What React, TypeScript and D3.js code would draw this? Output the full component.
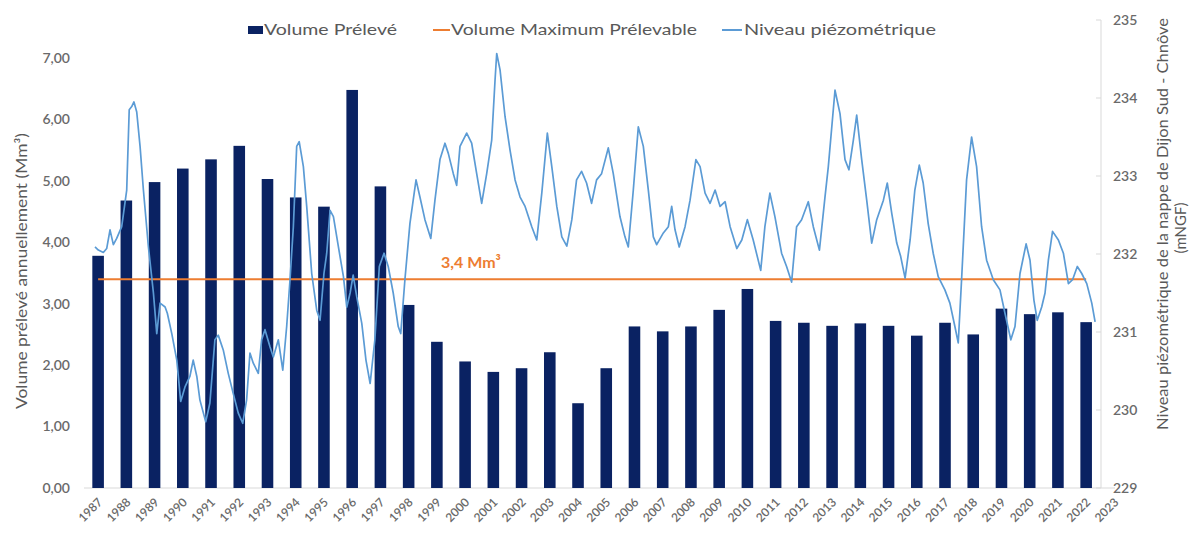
import React from "react";
import * as d3 from "d3";

const yearLabels = d3.range(1987, 2024).map(String);
const barYears = d3.range(1987, 2023).map(String);
const volumes = [3.78, 4.68, 4.98, 5.2, 5.35, 5.57, 5.03, 4.73, 4.58, 6.48, 4.91, 2.98, 2.38, 2.06, 1.89, 1.95, 2.21, 1.38, 1.95, 2.63, 2.55, 2.63, 2.9, 3.24, 2.72, 2.69, 2.64, 2.68, 2.64, 2.48, 2.69, 2.5, 2.92, 2.83, 2.86, 2.7];
const maxVolume = 3.4;
const leftTicks = [0, 1, 2, 3, 4, 5, 6, 7];
const rightTicks = [229, 230, 231, 232, 233, 234, 235];

const piezoDates = [
  1987.0, 1987.12, 1987.3, 1987.42, 1987.54, 1987.66, 1987.78, 1987.96, 1988.14, 1988.23, 1988.32, 1988.4, 1988.5, 1988.62, 1988.74, 1988.92,
  1989.1, 1989.22, 1989.34, 1989.52, 1989.6, 1989.76, 1989.94, 1990.08, 1990.24, 1990.41, 1990.53, 1990.66, 1990.77, 1990.98,
  1991.13, 1991.31, 1991.43, 1991.61, 1991.79, 1991.97, 1992.15, 1992.31, 1992.45, 1992.57, 1992.69, 1992.87, 1992.99,
  1993.11, 1993.29, 1993.41, 1993.59, 1993.75, 1993.89, 1994.01, 1994.13, 1994.25, 1994.34, 1994.49, 1994.61, 1994.79, 1994.97,
  1995.09, 1995.23, 1995.33, 1995.45, 1995.57, 1995.75, 1995.93, 1996.05, 1996.17, 1996.28, 1996.41, 1996.59, 1996.74, 1996.89,
  1997.06, 1997.22, 1997.39, 1997.54, 1997.72, 1997.9, 1997.99, 1998.14, 1998.32, 1998.54, 1998.68, 1998.86,
  1999.07, 1999.22, 1999.4, 1999.58, 1999.7, 1999.88, 2000.0, 2000.12, 2000.36, 2000.54, 2000.72, 2000.9,
  2001.08, 2001.26, 2001.38, 2001.44, 2001.56, 2001.74, 2001.92, 2002.1, 2002.28, 2002.46, 2002.7, 2002.88,
  2003.06, 2003.26, 2003.42, 2003.6, 2003.78, 2003.96, 2004.14, 2004.31, 2004.49, 2004.67, 2004.85,
  2005.03, 2005.21, 2005.45, 2005.63, 2005.87, 2006.05, 2006.17, 2006.35, 2006.53, 2006.71, 2006.89,
  2007.07, 2007.19, 2007.43, 2007.61, 2007.73, 2007.85, 2008.0, 2008.21, 2008.39, 2008.6, 2008.75, 2008.93,
  2009.11, 2009.29, 2009.47, 2009.65, 2009.83, 2010.07, 2010.25, 2010.45, 2010.66, 2010.93,
  2011.08, 2011.26, 2011.44, 2011.68, 2011.86, 2012.04, 2012.22, 2012.4, 2012.64, 2012.82,
  2013.04, 2013.24, 2013.36, 2013.6, 2013.78, 2013.96, 2014.1, 2014.26, 2014.38, 2014.56, 2014.74, 2014.92,
  2015.1, 2015.34, 2015.48, 2015.64, 2015.82, 2015.96, 2016.12, 2016.3, 2016.47, 2016.63, 2016.77, 2016.95,
  2017.13, 2017.31, 2017.55, 2017.73, 2017.91, 2018.03, 2018.15, 2018.33, 2018.51, 2018.69, 2018.87,
  2019.05, 2019.29, 2019.53, 2019.71, 2019.92, 2020.07, 2020.25, 2020.47, 2020.61, 2020.75, 2020.87,
  2021.03, 2021.15, 2021.27, 2021.42, 2021.63, 2021.81, 2021.99, 2022.14, 2022.31, 2022.47, 2022.65, 2022.83, 2022.95,
];
const piezoLevels = [
  232.09, 232.05, 232.02, 232.07, 232.31, 232.12, 232.2, 232.35, 232.82, 233.85, 233.89, 233.95, 233.82, 233.38, 232.82, 232.09,
  231.5, 230.98, 231.37, 231.32, 231.24, 230.98, 230.64, 230.11, 230.3, 230.43, 230.64, 230.43, 230.13, 229.85,
  230.09, 230.9, 230.96, 230.77, 230.47, 230.21, 229.96, 229.83, 230.13, 230.73, 230.6, 230.47, 230.9,
  231.03, 230.81, 230.68, 230.9, 230.51, 231.07, 231.67, 232.35, 233.38, 233.44, 233.12, 232.61, 231.75, 231.28,
  231.15, 231.75, 232.01, 232.56, 232.48, 232.09, 231.71, 231.32, 231.5, 231.73, 231.45, 231.11, 230.64, 230.34,
  230.9, 231.84, 232.01, 231.84, 231.5, 231.07, 230.98, 231.67, 232.39, 232.95, 232.73, 232.44,
  232.2, 232.69, 233.21, 233.42, 233.29, 233.03, 232.88, 233.38, 233.55, 233.42, 233.03, 232.65,
  233.03, 233.46, 234.23, 234.57, 234.36, 233.76, 233.33, 232.95, 232.73, 232.61, 232.35, 232.18,
  232.78, 233.55, 233.12, 232.61, 232.22, 232.1, 232.44, 232.95, 233.06, 232.91, 232.65,
  232.95, 233.03, 233.36, 233.03, 232.48, 232.22, 232.09, 232.82, 233.63, 233.38, 232.82,
  232.22, 232.12, 232.27, 232.35, 232.61, 232.31, 232.09, 232.35, 232.69, 233.21, 233.12, 232.78,
  232.65, 232.82, 232.61, 232.67, 232.35, 232.07, 232.18, 232.44, 232.18, 231.79,
  232.35, 232.78, 232.48, 232.01, 231.84, 231.64, 232.35, 232.44, 232.67, 232.35,
  232.05, 232.73, 233.12, 234.1, 233.8, 233.21, 233.08, 233.46, 233.78, 233.21, 232.69, 232.14,
  232.44, 232.69, 232.91, 232.52, 232.14, 231.97, 231.69, 232.18, 232.82, 233.14, 232.91, 232.39,
  232.01, 231.71, 231.54, 231.37, 231.07, 230.86, 231.67, 232.95, 233.5, 233.12, 232.35,
  231.92, 231.67, 231.54, 231.24, 230.9, 231.07, 231.75, 232.13, 231.92, 231.41, 231.15,
  231.32, 231.5, 231.92, 232.29, 232.18, 232.01, 231.62, 231.67, 231.84, 231.75, 231.62, 231.37, 231.13,
];

const legendItems = ["Volume Prélevé", "Volume Maximum Prélevable", "Niveau piézométrique"];
const leftTitle = "Volume prélevé annuellement (Mm³)";
const rightTitle1 = "Niveau piézométrique de la nappe de Dijon Sud - Chnôve";
const rightTitle2 = "(mNGF)";
const maxLabel = "3,4 Mm³";

const BAR = "#0a2262";
const ORANGE = "#ED7D31";
const BLUE = "#5B9BD5";
const TXT = "#595959";
const TICK = "#6a6a6a";
const FONT = "Lato, 'Open Sans', sans-serif";

export default function App() {
  const W = 1189, H = 533;
  const x = d3.scaleBand<string>().domain(yearLabels).range([84, 1128.5]).paddingInner(0.59).paddingOuter(0.295);
  const cx = (k: string) => (x(k) as number) + x.bandwidth() / 2;
  const yL = d3.scaleLinear().domain([0, 7]).range([488, 58]);
  const yR = d3.scaleLinear().domain([229, 235]).range([488, 20]);
  const t = d3.scaleLinear().domain([1987, 2023]).range([95, 1096.5]);

  const piezo = piezoDates.map((d, i) => [d, piezoLevels[i]] as [number, number]);
  const line = d3.line<[number, number]>().x((d) => t(d[0])).y((d) => yR(d[1])).curve(d3.curveLinear);
  const maxLine = d3.line<string>().x((k) => cx(k)).y(() => yL(maxVolume));
  const fmt = (v: number) => v.toFixed(2).replace(".", ",");

  return (
    <svg width={W} height={H} style={{ position: "absolute", left: 0, top: 0, background: "#fff" }} fontFamily={FONT}>
      {/* baseline and right axis */}
      <line x1={84} x2={1115} y1={yL(0)} y2={yL(0)} stroke="#D9D9D9" strokeWidth={1} />
      <line x1={1101} x2={1101} y1={yR(235)} y2={yR(229)} stroke="#D9D9D9" strokeWidth={1} />
      {rightTicks.map((v) => (
        <line key={"rt" + v} x1={1096} x2={1101} y1={yR(v)} y2={yR(v)} stroke="#D9D9D9" />
      ))}

      {/* bars */}
      {barYears.map((k, i) => (
        <rect key={k} x={x(k)} y={yL(volumes[i])} width={x.bandwidth()} height={yL(0) - yL(volumes[i])} fill={BAR} />
      ))}

      {/* max volume line */}
      <path d={maxLine(barYears) as string} stroke={ORANGE} strokeWidth={2} fill="none" />
      <text x={441} y={268} fontSize={16} fontWeight="bold" fill={ORANGE}>{maxLabel}</text>

      {/* piezometric line */}
      <path d={line(piezo) as string} stroke={BLUE} strokeWidth={1.7} fill="none" strokeLinejoin="round" />

      {/* left ticks */}
      {leftTicks.map((v) => (
        <text key={"l" + v} x={70} y={yL(v)} dy="0.35em" textAnchor="end" fontSize={14} fontWeight={600} fill={TICK}>{fmt(v)}</text>
      ))}
      {/* right ticks */}
      {rightTicks.map((v) => (
        <text key={"r" + v} x={1113} y={yR(v)} dy="0.35em" textAnchor="start" fontSize={14} fontWeight={600} fill={TICK}>{v}</text>
      ))}
      {/* x labels */}
      {yearLabels.map((k) => (
        <text key={"x" + k} transform={`translate(${cx(k) + 5},${503}) rotate(-45)`} textAnchor="end" fontSize={12} fontWeight={600} fill={TICK}>{k}</text>
      ))}

      {/* axis titles */}
      <text transform={`translate(27,271) rotate(-90)`} textAnchor="middle" fontSize={15} fill={TXT} textLength={276} lengthAdjust="spacingAndGlyphs">{leftTitle}</text>
      <text transform={`translate(1168,224) rotate(-90)`} textAnchor="middle" fontSize={15} fill={TXT} textLength={412} lengthAdjust="spacingAndGlyphs">{rightTitle1}</text>
      <text transform={`translate(1186,228) rotate(-90)`} textAnchor="middle" fontSize={15} fill={TXT}>{rightTitle2}</text>

      {/* legend */}
      <rect x={248} y={26} width={15} height={8} fill={BAR} />
      <text x={264} y={35} fontSize={16} fill={TXT} textLength={133} lengthAdjust="spacingAndGlyphs">{legendItems[0]}</text>
      <line x1={433} x2={450} y1={30} y2={30} stroke={ORANGE} strokeWidth={2} />
      <text x={451} y={35} fontSize={16} fill={TXT} textLength={246} lengthAdjust="spacingAndGlyphs">{legendItems[1]}</text>
      <line x1={722} x2={742} y1={30} y2={30} stroke={BLUE} strokeWidth={2} />
      <text x={744} y={35} fontSize={16} fill={TXT} textLength={192} lengthAdjust="spacingAndGlyphs">{legendItems[2]}</text>
    </svg>
  );
}
